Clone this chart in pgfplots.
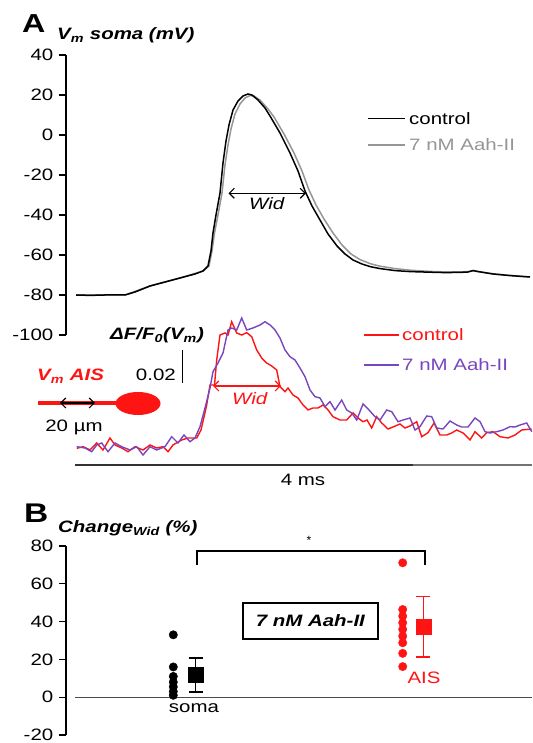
\documentclass[border=0pt]{standalone}
\usepackage{fontspec}
\setmainfont{Liberation Sans}
\usepackage{graphicx}
\usepackage{pgfplots}
\pgfplotsset{compat=1.18}
\usetikzlibrary{arrows.meta}
\definecolor{trred}{RGB}{255,20,20}
\definecolor{trpurple}{RGB}{120,70,190}
\definecolor{trgray}{RGB}{150,150,150}
\newcommand{\sx}[1]{\scalebox{1.24}[1]{#1}}
\pgfplotsset{
  panel/.style={scale only axis, width=466pt, xmin=66, xmax=532, clip=false,
    hide x axis, axis y line*=left, y axis line style={-, line width=1.2pt},
    tick align=outside, major tick length=7pt,
    every tick/.style={black, line width=1.2pt}},
}
\tikzset{arr/.style={{Straight Barb[length=5pt,width=10pt]}-{Straight Barb[length=5pt,width=10pt]}, line width=1.2pt}}
\begin{document}
\fontsize{16.5}{19.8}\selectfont
\begin{tikzpicture}
\useasboundingbox (0pt,0pt) rectangle (532pt,743pt);

% ---------- Panel A: somatic Vm ----------
\begin{axis}[panel, at={(66pt,408pt)}, anchor=south west, height=280pt,
  ymin=-100, ymax=40, ytick={-100,-80,-60,-40,-20,0,20,40},
  yticklabels={\sx{-100},\sx{-80},\sx{-60},\sx{-40},\sx{-20},\sx{0},\sx{20},\sx{40}}]
\addplot[trgray, line width=1.5pt] coordinates {
(76,-80) (125,-80) (150,-75.5) (180,-71.5) (203,-68) (209,-65.5) (212,-58) (214.5,-49)
(218,-40) (222,-29) (225,-15) (228,-5) (231,3) (235,10.5) (240,15.5) (245,18.5) (250,19.7)
(254,19.5) (260,17.5) (268,13) (274,9) (284,0.5) (294,-9) (302,-18) (309,-27.5) (316,-35)
(324,-42) (333,-49) (342,-55) (351,-59.5) (360,-62.3) (370,-64.3) (380,-65.6) (395,-66.8)
(410,-67.6) (430,-68.2) (445,-68.5) (460,-68.5) (468,-68.3) (473,-67.8) (478,-68.2)
(493,-69.4) (510,-70.2) (530,-71)};
\addplot[black, line width=1.5pt] coordinates {
(76,-80) (90,-80.2) (105,-80) (125,-80) (135,-78.5) (150,-75.5) (165,-73.5) (180,-71.5)
(195,-69.5) (203,-68) (208,-65.5) (211,-58) (213,-49) (216,-40) (220,-29) (223,-14)
(226,-3) (229,5) (233,12.5) (238,17) (243,19.5) (248,20.5) (252,20) (258,17.5) (265,13.5)
(270,9.5) (280,1) (290,-9) (298,-18) (305,-28) (312,-35.5) (320,-42.5) (328,-49.5)
(337,-55.5) (345,-59.5) (353,-62.5) (362,-64.5) (370,-65.8) (380,-66.8) (395,-67.8)
(410,-68.3) (430,-68.6) (445,-68.8) (460,-68.7) (468,-68.5) (473,-67.8) (478,-68.3)
(493,-69.5) (510,-70.3) (530,-71)};
\end{axis}

% ---------- Panel A: AIS fluorescence ----------
\begin{axis}[scale only axis, width=466pt, height=155pt, at={(66pt,278pt)}, anchor=south west,
  xmin=66, xmax=532, ymin=-15, ymax=140, axis lines=none, clip=false]
\addplot[trred, line width=1.4pt] coordinates {
(76.7,1.7) (83.3,3.3) (90,0) (96.7,7) (103,0) (110,12) (115,5) (121.7,2) (128,-1.7)
(135,3.3) (143,0) (150,5) (156.7,2) (163,3.3) (168,-1.7) (173,5) (181.7,10) (188,12)
(196.7,12) (201,20) (206.5,44) (210,65) (214.5,65) (216.7,90) (220,115) (225,117)
(228,115) (231.7,128.3) (236.7,117) (241.7,115) (246.7,117.3) (251.7,113.3) (256.7,100)
(261.7,92) (266.7,87) (271.7,84) (276.7,80) (280,63.3) (285,58.3) (288,62) (293,55)
(298,52) (303,45) (308,40) (313,42) (318,42) (323,45) (328,40) (333,33.3) (340,30)
(346.7,30) (353,37) (358,32) (363,28.3) (367,30) (371.7,22) (376.7,33.3) (381.7,27)
(388,21) (393,23) (400,26) (405,22) (410,24) (416.7,28.3) (421.7,13.3) (428,17.3)
(434,27) (440,15) (446.7,15) (451.7,17) (456.7,20) (463,17) (470,10) (475,18.3)
(481.7,12) (486.7,17.3) (493,18.3) (500,13.3) (508,12) (515,15) (521.7,20) (531.7,21)};
\addplot[trpurple, line width=1.4pt] coordinates {
(76.7,3.3) (85,2) (91.7,-1.7) (96.7,5) (101.7,7) (108,-1.7) (115,7) (121.7,3.3) (130,0)
(136.7,3.3) (143,-5) (150,3.3) (156.7,0) (165,3.3) (171.7,13.3) (178,7) (184,15)
(190,8.3) (195,12) (200,23.3) (205,42) (210,62) (213,78.3) (218,87) (223,97) (228,120)
(231.7,122) (236.7,120) (241.7,132) (246.7,120) (253,122) (260,125) (265,128.3) (270,125)
(275,120) (280,112) (285,100) (290,93.3) (295,90) (300,82) (305,73.3) (310,60) (315,53.3)
(320,52) (325,43.3) (330,48.3) (335,40) (341.7,50) (346.7,40) (351.7,37) (356.7,30)
(363,46) (369,40) (375,33.3) (380,30) (386.7,40) (391.7,38.3) (398,28.3) (403,30)
(410,32) (415,20) (420,23.3) (426.7,34) (431.7,33.3) (436.7,22) (443,21) (450,29)
(456.7,25) (461.7,23) (468,23) (475,32) (480,28.3) (485,18.3) (490,17) (496.7,18.3)
(503,20) (510,23.3) (515,23) (520,25) (526.7,27) (531.7,18.3)};
\end{axis}

% ---------- Panel B ----------
\begin{axis}[panel, at={(66pt,8pt)}, anchor=south west, height=189pt,
  ymin=-20, ymax=80, ytick={-20,0,20,40,60,80},
  yticklabels={\sx{-20},\sx{0},\sx{20},\sx{40},\sx{60},\sx{80}}]
\draw[line width=1.3pt, black!70] (axis cs:75,0) -- (axis cs:532,0);
\addplot[only marks, mark=*, mark size=4.2pt, mark options={draw=black, fill=black}] coordinates {
(173.3,33) (173.3,16) (173.3,11) (173.3,8) (173.3,5.5) (173.3,3) (173.3,1)};
\addplot[only marks, mark=*, mark size=4.2pt, mark options={draw=trred, fill=trred}] coordinates {
(402.7,71.1) (402.7,46.4) (402.7,42.9) (402.7,39.4) (402.7,35.9) (402.7,32.3) (402.7,28.8) (402.7,23.2) (402.7,16.2)};
\addplot[only marks, mark=square*, mark size=7.5pt, black,
  error bars/.cd, y dir=both, y explicit,
  error bar style={line width=1.4pt, black, solid},
  error mark=-,
  error mark options={rotate=90, line width=1.4pt, mark size=7pt, black, solid}] coordinates {
(195.7,11.7) +- (0,9)};
\addplot[only marks, mark=square*, mark size=7.5pt, trred,
  error bars/.cd, y dir=both, y explicit,
  error bar style={line width=1.4pt, trred, solid},
  error mark=-,
  error mark options={rotate=90, line width=1.4pt, mark size=7pt, trred, solid}] coordinates {
(423.3,37.3) +- (0,16)};
\end{axis}

\begin{scope}[x=1pt, y=-1pt, shift={(0pt,743pt)}]
% ---------- annotations panel A ----------
\node[anchor=base west, inner sep=0pt, font=\fontsize{26}{30}\selectfont\bfseries] at (22,33) {\sx{A}};
\node[anchor=base west, inner sep=0pt] at (57,40) {\sx{\textbf{\textit{V\textsubscript{m} soma (mV)}}}};
\draw[arr] (228.5,193.3) -- (306,193.3);
\node[inner sep=0pt] at (267,204) {\sx{\textit{Wid}}};
\draw[black, line width=1.5pt] (367.7,118.3) -- (405.3,118.3);
\node[anchor=west, inner sep=0pt] at (409,118.3) {\sx{control}};
\draw[trgray, line width=1.5pt] (367.7,145) -- (405.3,145);
\node[anchor=west, inner sep=0pt, text=trgray] at (409,145) {\sx{7 nM Aah-II}};

\node[anchor=base west, inner sep=0pt] at (110,340) {\sx{\textbf{\textit{ΔF/F\textsubscript{0}(V\textsubscript{m})}}}};
\node[anchor=base east, inner sep=0pt] at (176,381) {\sx{0.02}};
\draw[line width=1.5pt] (182.7,350) -- (182.7,383);
\node[anchor=base west, inner sep=0pt, text=trred] at (37,381) {\sx{\textbf{\textit{V\textsubscript{m} AIS}}}};
\draw[trred, line width=4pt] (38,403) -- (120,403);
\fill[trred] (138,403.5) ellipse [x radius=22.5, y radius=11.5];
\draw[arr] (60,403) -- (95,403);
\node[inner sep=0pt] at (74,427) {\sx{20 µm}};
\draw[arr, trred] (213,386) -- (281,386);
\node[inner sep=0pt, text=trred] at (250,399) {\sx{\textit{Wid}}};
\draw[trred, line width=1.5pt] (364,335) -- (399,335);
\node[anchor=west, inner sep=0pt, text=trred] at (402,335) {\sx{control}};
\draw[trpurple, line width=1.5pt] (364,365) -- (399,365);
\node[anchor=west, inner sep=0pt, text=trpurple] at (402,365) {\sx{7 nM Aah-II}};
\draw[line width=2pt, black!80] (75,465) -- (413,465);
\draw[line width=1.5pt, black!55] (413,465) -- (532,465);
\node[inner sep=0pt] at (303,480) {\sx{4 ms}};

% ---------- annotations panel B ----------
\node[anchor=base west, inner sep=0pt, font=\fontsize{27}{30}\selectfont\bfseries] at (24,523) {\sx{B}};
\node[anchor=base west, inner sep=0pt] at (58,533) {\sx{\textbf{\textit{Change\textsubscript{Wid} (\%)}}}};
\draw[line width=1.3pt] (197,565) -- (197,551) -- (425,551) -- (425,565);
\node[inner sep=0pt, font=\fontsize{12}{14}\selectfont] at (309,540) {*};
\draw[line width=1.3pt] (243,603) rectangle (378,639);
\node[inner sep=0pt] at (310.5,621) {\sx{\textbf{\textit{7 nM Aah-II}}}};
\node[inner sep=0pt] at (194,708) {\sx{soma}};
\node[inner sep=0pt, text=trred] at (424,678) {\sx{AIS}};
\end{scope}
\end{tikzpicture}
\end{document}
